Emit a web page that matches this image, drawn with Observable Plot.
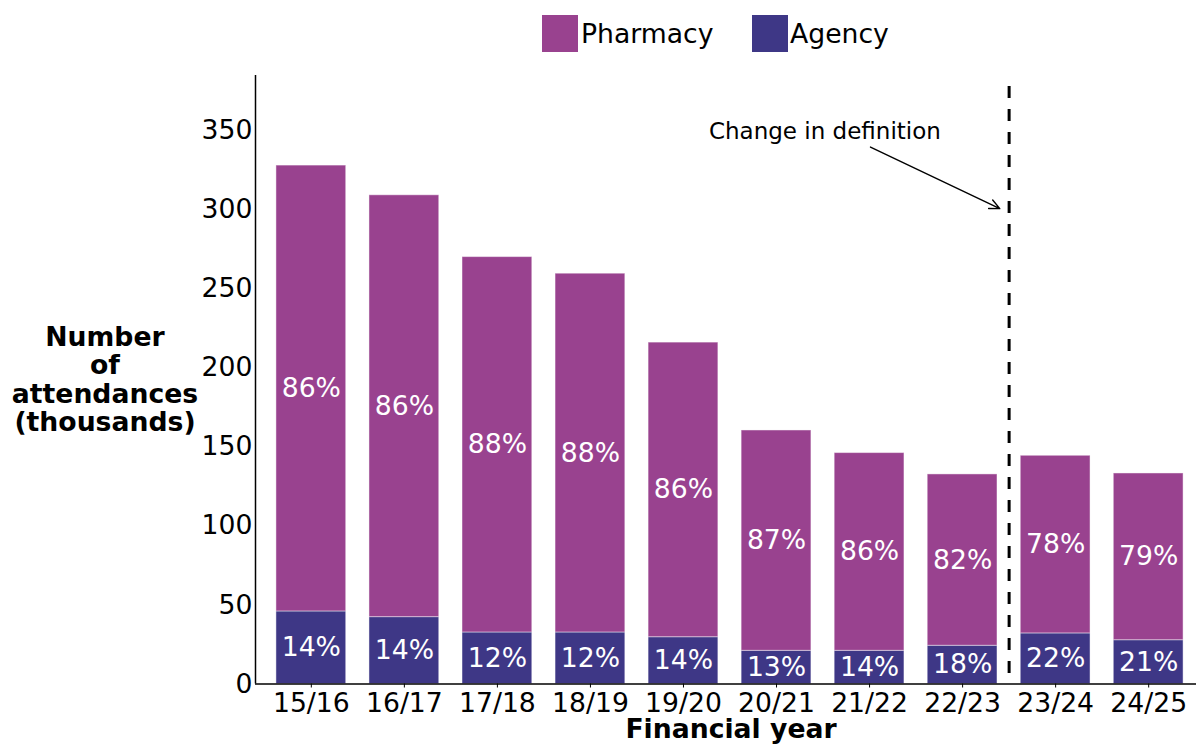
<!DOCTYPE html>
<html>
<head>
<meta charset="utf-8">
<script src="https://cdn.jsdelivr.net/npm/d3@7"></script>
<script src="https://cdn.jsdelivr.net/npm/@observablehq/plot@0.6"></script>
<style>
  html, body { margin: 0; padding: 0; background: #fff; overflow: hidden; }
  #wrap { position: relative; width: 1196px; height: 744px; overflow: hidden; font-family: "DejaVu Sans", sans-serif; color: #000; }
  #legend { position: relative; height: 62px; }
  .sw { position: absolute; top: 15px; width: 36px; height: 37px; }
  .lt { position: absolute; top: 15px; height: 37px; line-height: 37px; font-size: 26.67px; white-space: nowrap; }
  #ytitle { position: absolute; left: 0; width: 210px; top: 323px; text-align: center; font-weight: bold; font-size: 26.67px; line-height: 28.4px; }
  #xtitle { position: absolute; left: 531px; width: 400px; top: 719px; height: 20px; text-align: center; font-weight: bold; font-size: 26.67px; line-height: 20px; white-space: nowrap; }
</style>
</head>
<body>
<div id="wrap">
  <div id="legend"></div>
  <div id="chart"></div>
  <div id="ytitle">Number<br>of<br>attendances<br>(thousands)</div>
  <div id="xtitle">Financial year</div>
</div>
<script>
// ---- data ----
const years = ["15/16","16/17","17/18","18/19","19/20","20/21","21/22","22/23","23/24","24/25"];
const agency = [45.9, 42.3, 32.6, 32.6, 29.6, 21.0, 21.0, 24.2, 32.0, 27.7];
const pharmacy = [282.1, 266.9, 237.5, 227.0, 186.4, 139.4, 125.1, 108.4, 112.4, 105.5];
const pharmacyPct = [86, 86, 88, 88, 86, 87, 86, 82, 78, 79];
const agencyPct = [14, 14, 12, 12, 14, 13, 14, 18, 22, 21];
const yTicks = [0, 50, 100, 150, 200, 250, 300, 350];
const seriesNames = ["Pharmacy", "Agency"];
const seriesColors = ["#99428f", "#3e3786"];
const definitionChange = [{x: 7.5, yTop: 378}];
const annotationText = [{x: 5.52, y: 349.7, text: "Change in definition"}];
const annotationArrow = [{x1: 6.01, y1: 339.7, x2: 7.40, y2: 300.8}];

// ---- legend ----
const legend = document.getElementById("legend");
const legendPos = [{sw: 542, tx: 581}, {sw: 752, tx: 790}];
seriesNames.forEach((name, k) => {
  const s = document.createElement("div");
  s.className = "sw"; s.style.left = legendPos[k].sw + "px"; s.style.background = seriesColors[k];
  const t = document.createElement("div");
  t.className = "lt"; t.style.left = legendPos[k].tx + "px"; t.textContent = name;
  legend.appendChild(s); legend.appendChild(t);
});

// ---- rows ----
const rows = [];
years.forEach((yr, i) => {
  rows.push({i, year: yr, series: "Agency", y1: 0, y2: agency[i], pct: agencyPct[i]});
  rows.push({i, year: yr, series: "Pharmacy", y1: agency[i], y2: agency[i] + pharmacy[i], pct: pharmacyPct[i]});
});

const xDomain = [-0.6, 9.6];
const halfBar = 0.375;
const fs = 26.67;

const chart = Plot.plot({
  width: 1196,
  height: 682,
  marginTop: 13,
  marginBottom: 60.5,
  marginLeft: 255,
  marginRight: 0,
  style: {fontFamily: "DejaVu Sans, sans-serif", fontSize: fs + "px", color: "#000", background: "#fff", overflow: "hidden"},
  x: {domain: xDomain, range: [255, 1204]},
  y: {domain: [0, 385]},
  color: {domain: seriesNames, range: seriesColors},
  marks: [
    Plot.rectY(rows, {
      x1: d => d.i - halfBar, x2: d => d.i + halfBar, y1: "y1", y2: "y2",
      fill: "series", stroke: "#fff", strokeOpacity: 0.45, strokeWidth: 1
    }),
    Plot.text(rows, {
      x: "i", y: d => (d.y1 + d.y2) / 2, text: d => d.pct + "%",
      fill: "#fff", fontSize: fs
    }),
    Plot.ruleX(definitionChange, {
      x: "x", y1: "yTop", y2: () => 0,
      stroke: "#000", strokeWidth: 3, strokeDasharray: "12,11"
    }),
    Plot.text(annotationText, {x: "x", y: "y", text: "text", fontSize: 23, fill: "#000"}),
    Plot.arrow(annotationArrow, {
      x1: "x1", y1: "y1", x2: "x2", y2: "y2",
      stroke: "#000", strokeWidth: 1.4, headLength: 12, headAngle: 50, bend: 0
    }),
    Plot.axisY({ticks: yTicks, tickSize: 0, tickPadding: 3, fontSize: fs, label: null}),
    Plot.axisX({
      ticks: years.map((_, i) => i), tickFormat: i => years[i],
      tickSize: 4, tickPadding: 5, fontSize: fs, label: null
    }),
    Plot.ruleX([xDomain[0]], {stroke: "#000", strokeWidth: 1.5}),
    Plot.ruleY([0], {stroke: "#000", strokeWidth: 1.5})
  ]
});
document.getElementById("chart").appendChild(chart);
</script>
</body>
</html>
